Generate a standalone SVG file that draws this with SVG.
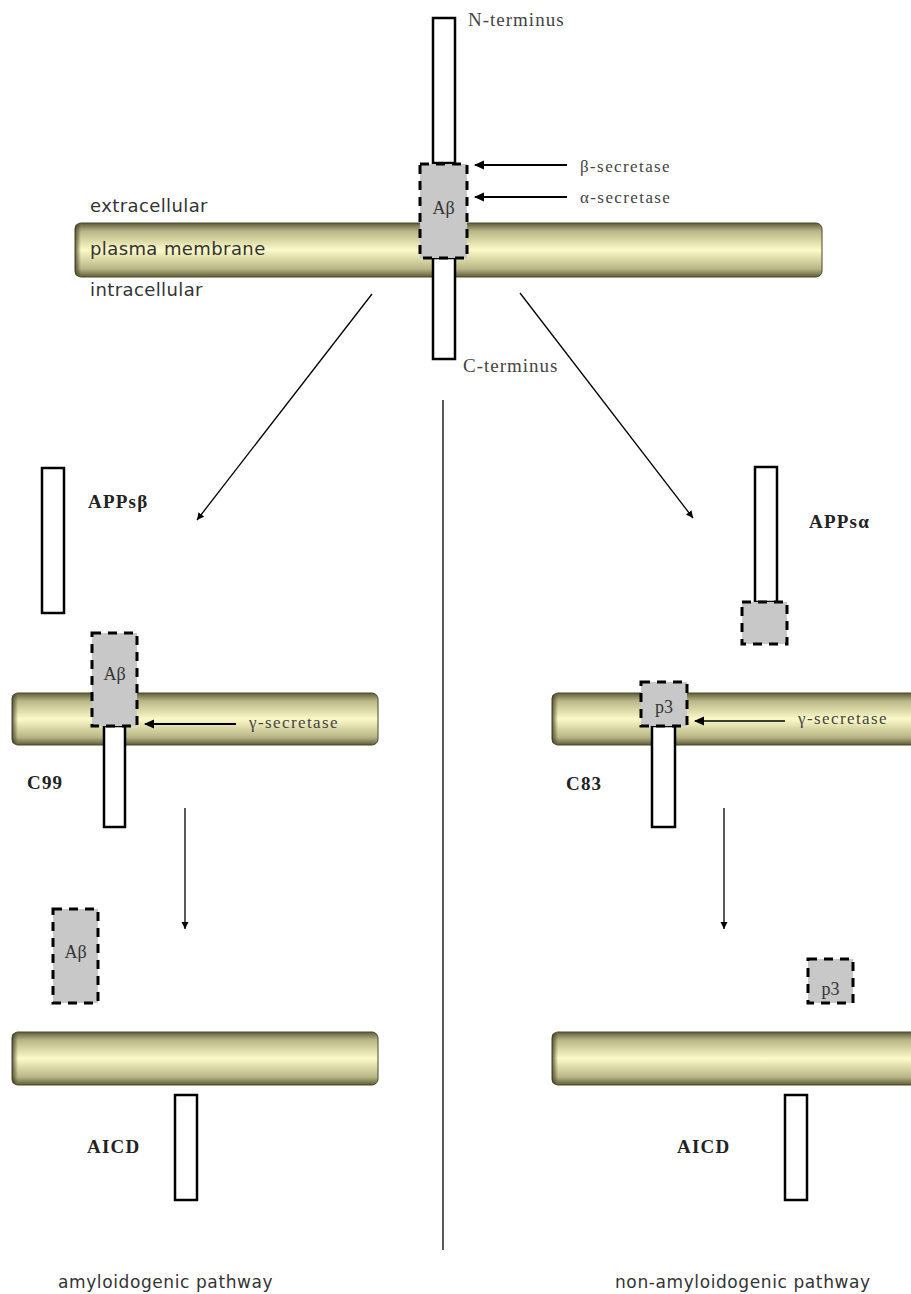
<svg xmlns="http://www.w3.org/2000/svg" width="911" height="1294" viewBox="0 0 911 1294">
<defs>
<linearGradient id="mem" x1="0" y1="0" x2="0" y2="1">
<stop offset="0" stop-color="#5e5c38"/>
<stop offset="0.15" stop-color="#b8b686"/>
<stop offset="0.5" stop-color="#fbfac8"/>
<stop offset="0.85" stop-color="#b8b686"/>
<stop offset="1" stop-color="#5e5c38"/>
</linearGradient>
<linearGradient id="endl" x1="0" y1="0" x2="1" y2="0">
<stop offset="0" stop-color="#3a3820" stop-opacity="0.8"/>
<stop offset="1" stop-color="#3a3820" stop-opacity="0"/>
</linearGradient>
<marker id="ah" markerWidth="11" markerHeight="11" refX="9" refY="5.5" orient="auto" markerUnits="userSpaceOnUse">
<path d="M0,1 L10,5.5 L0,10 z" fill="#000"/>
</marker>
<marker id="ahs" markerWidth="8" markerHeight="8" refX="7" refY="4" orient="auto" markerUnits="userSpaceOnUse">
<path d="M0,0.5 L7,4 L0,7.5 z" fill="#000"/>
</marker>
</defs>
<style>
.mem{fill:url(#mem);stroke:#4a4828;stroke-width:1}
.end{fill:url(#endl)}
.bar{fill:#fff;stroke:#000;stroke-width:2.5}
.ab{fill:#c8c8c8;stroke:#000;stroke-width:3;stroke-dasharray:9,7}
.sans{font-family:"DejaVu Sans","Liberation Sans",sans-serif;font-size:18px;fill:#333;letter-spacing:0.4px}
.path{font-family:"DejaVu Sans","Liberation Sans",sans-serif;font-size:17px;fill:#333;letter-spacing:0.6px}
.ser{font-family:"Liberation Serif",serif;font-size:19px;fill:#444;letter-spacing:1px}
.sec{font-family:"Liberation Serif",serif;font-size:17px;fill:#444;letter-spacing:1.4px}
.lab{font-family:"Liberation Serif",serif;font-size:18px;fill:#333;text-anchor:middle}
.bold{font-family:"Liberation Serif",serif;font-size:19px;font-weight:bold;fill:#222;letter-spacing:1.2px}
.conn{stroke:#000;stroke-width:1.3;fill:none}
.cut{stroke:#000;stroke-width:2.2;fill:none}
</style>
<rect width="911" height="1294" fill="#fff"/>

<g id="membrane-top">
<rect class="mem" x="75" y="223" width="747" height="54" rx="6"/>
<rect class="end" x="75" y="224" width="6" height="52" rx="3"/>
<text class="sans" x="90" y="255" letter-spacing="0.6">plasma membrane</text>
</g>
<g id="labels-top">
<text class="sans" x="90" y="212">extracellular</text>
<text class="sans" x="90" y="296">intracellular</text>
</g>
<g id="app">
<rect class="bar" x="433" y="18" width="22" height="145"/>
<rect class="bar" x="433" y="258" width="22" height="101"/>
<rect class="ab" x="420" y="164" width="47" height="94"/>
<text class="lab" x="443.5" y="214" font-size="17">Aβ</text>
<text class="ser" x="468" y="26">N-terminus</text>
<text class="ser" x="463" y="372" letter-spacing="1.4">C-terminus</text>
</g>
<g id="secretases-top">
<text class="sec" x="580" y="172">β-secretase</text>
<text class="sec" x="580" y="203">α-secretase</text>
</g>

<g id="left-middle">
<rect class="bar" x="42" y="468" width="22" height="145"/>
<text class="bold" x="88" y="508">APPsβ</text>
<rect class="mem" x="12" y="693" width="366" height="52" rx="6"/>
<rect class="end" x="12" y="694" width="6" height="50" rx="3"/>
<rect class="bar" x="104" y="726" width="21" height="101"/>
<rect class="ab" x="92" y="633" width="45" height="93"/>
<text class="lab" x="114.5" y="680">Aβ</text>
<text class="sec" x="249" y="728" letter-spacing="1.8">γ-secretase</text>
<text class="bold" x="27" y="789" letter-spacing="0.8">C99</text>
</g>

<g id="right-middle">
<rect class="bar" x="755" y="467" width="22" height="135"/>
<rect class="ab" x="742" y="602" width="45" height="42"/>
<text class="bold" x="809" y="528" letter-spacing="1.5">APPsα</text>
<rect class="mem" x="552" y="693" width="370" height="52" rx="6"/>
<rect class="end" x="552" y="694" width="6" height="50" rx="3"/>
<rect class="bar" x="652" y="726" width="23" height="101"/>
<rect class="ab" x="641" y="682" width="46" height="44"/>
<text class="lab" x="664" y="713">p3</text>
<text class="sec" x="798" y="724">γ-secretase</text>
<text class="bold" x="566" y="790" letter-spacing="0.8">C83</text>
</g>

<g id="left-bottom">
<rect class="ab" x="53" y="909" width="45" height="94"/>
<text class="lab" x="75.5" y="958">Aβ</text>
<rect class="mem" x="12" y="1032" width="366" height="53" rx="6"/>
<rect class="end" x="12" y="1033" width="6" height="51" rx="3"/>
<rect class="bar" x="175" y="1095" width="22" height="105"/>
<text class="bold" x="87" y="1153" letter-spacing="1.5">AICD</text>
<text class="path" x="58" y="1288">amyloidogenic pathway</text>
</g>

<g id="right-bottom">
<rect class="ab" x="808" y="959" width="45" height="44"/>
<text class="lab" x="830.5" y="995">p3</text>
<rect class="mem" x="552" y="1032" width="370" height="53" rx="6"/>
<rect class="end" x="552" y="1033" width="6" height="51" rx="3"/>
<rect class="bar" x="785" y="1095" width="22" height="105"/>
<text class="bold" x="677" y="1153" letter-spacing="1.5">AICD</text>
<text class="path" x="615" y="1288">non-amyloidogenic pathway</text>
</g>

<g id="connectors">
<line class="cut" x1="567" y1="165" x2="475" y2="165" marker-end="url(#ah)"/>
<line class="cut" x1="567" y1="197" x2="475" y2="197" marker-end="url(#ah)"/>
<line class="conn" x1="372" y1="294" x2="197" y2="520" marker-end="url(#ahs)"/>
<line class="conn" x1="520" y1="293" x2="693" y2="518" marker-end="url(#ahs)"/>
<line class="conn" x1="443" y1="400" x2="443" y2="1250" stroke-width="1"/>
<line class="cut" x1="236" y1="724" x2="145" y2="724" marker-end="url(#ah)"/>
<line class="conn" x1="785" y1="721" x2="695" y2="721" marker-end="url(#ah)"/>
<line class="conn" x1="185" y1="808" x2="185" y2="929" marker-end="url(#ahs)"/>
<line class="conn" x1="724" y1="808" x2="724" y2="929" marker-end="url(#ahs)"/>
</g>
</svg>
